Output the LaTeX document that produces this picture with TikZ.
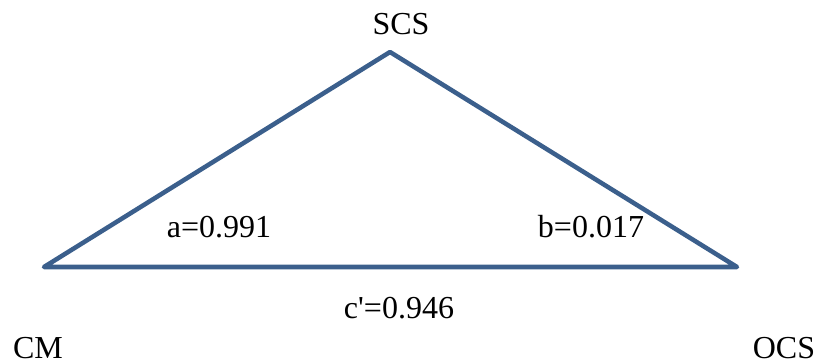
\documentclass[tikz,border=0pt]{standalone}
\usepackage{fontspec}
\setmainfont{Liberation Serif}
\definecolor{edgeblue}{HTML}{3B5F8C}
\begin{document}
\begin{tikzpicture}[x=0.75pt, y=-0.75pt, font=\fontsize{24}{29}\selectfont,
  lbl/.style={anchor=base, inner sep=0pt},
  side/.style={draw=edgeblue, line width=3.4pt, line join=round, line cap=round}]
  \useasboundingbox (0,0) rectangle (819,364);
  % vertices
  \coordinate (cm) at (44,267);
  \coordinate (scs) at (390,52);
  \coordinate (ocs) at (737,267);
  \draw[side] (cm) -- (scs) -- (ocs) -- cycle;
  \node[lbl] (scslbl) at (401,35) {SCS};
  \node[lbl] (cmlbl) at (38,358) {CM};
  \node[lbl] (ocslbl) at (784,358) {OCS};
  \node[lbl] (alab) at (219,237) {a=0.991};
  \node[lbl] (blab) at (591,237) {b=0.017};
  \node[lbl] (clab) at (399,318) {c\textquotesingle=0.946};
\end{tikzpicture}
\end{document}
